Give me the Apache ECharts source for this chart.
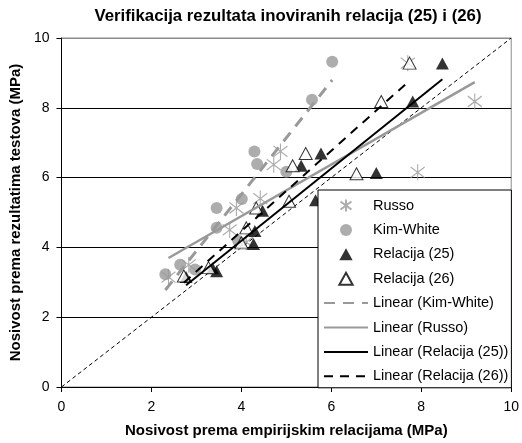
<!DOCTYPE html>
<html><head><meta charset="utf-8">
<script src="https://cdn.jsdelivr.net/npm/echarts@6/dist/echarts.min.js"></script>
<style>html,body{margin:0;padding:0;background:#fff}#c{width:522px;height:443px}</style>
</head><body><div id="c"></div>
<script>
// ---- data ----
const russoX = [2.38, 2.83, 3.74, 3.89, 4.11, 4.42, 4.72, 4.87, 7.70, 7.92, 9.19];
const russoY = [3.15, 3.50, 4.50, 5.13, 4.15, 5.40, 6.37, 6.75, 9.28, 6.15, 8.18];
const kimX = [2.31, 2.64, 2.97, 3.45, 3.45, 3.93, 4.01, 4.29, 4.35, 5.00, 5.57, 6.02];
const kimY = [3.23, 3.50, 3.37, 4.56, 5.13, 4.18, 5.39, 6.75, 6.39, 6.17, 8.23, 9.32];
const r25X = [2.77, 3.36, 3.45, 4.27, 4.30, 4.47, 5.33, 5.65, 5.77, 7.00, 7.81, 8.47];
const r25Y = [3.15, 3.40, 3.32, 4.10, 4.47, 5.05, 6.34, 5.35, 6.69, 6.13, 8.18, 9.27];
const r26X = [2.72, 3.27, 4.00, 4.11, 4.33, 5.06, 5.14, 5.43, 6.56, 7.11, 7.74];
const r26Y = [3.18, 3.42, 4.13, 4.56, 5.13, 5.32, 6.34, 6.69, 6.11, 8.18, 9.28];
const refLineX = [0, 10];
const refLineY = [0, 10];
const axisTicks = [0, 2, 4, 6, 8, 10];
const legendNames = ['Russo', 'Kim-White', 'Relacija (25)', 'Relacija (26)',
  'Linear (Kim-White)', 'Linear (Russo)', 'Linear (Relacija (25))', 'Linear (Relacija (26))'];

function pairs(xs, ys) { return xs.map((x, i) => [x, ys[i]]); }
function trend(xs, ys) {
  const n = xs.length;
  const mx = xs.reduce((a, b) => a + b, 0) / n, my = ys.reduce((a, b) => a + b, 0) / n;
  let sxy = 0, sxx = 0;
  for (let i = 0; i < n; i++) { sxy += (xs[i] - mx) * (ys[i] - my); sxx += (xs[i] - mx) ** 2; }
  const b = sxy / sxx, a = my - b * mx;
  const x0 = Math.min(...xs), x1 = Math.max(...xs);
  return [[x0, a + b * x0], [x1, a + b * x1]];
}

const GRAY = '#999999';
const FONT = "'Liberation Sans', Arial, sans-serif";
const asterisk = 'path://M5,0L5,11M0,1.8L10,9.2M0,9.2L10,1.8';
const tri = 'path://M5,0L10,9L0,9Z';
const hidden = { color: 'rgba(0,0,0,0)', borderColor: 'rgba(0,0,0,0)', borderWidth: 0 };

const chart = echarts.init(document.getElementById('c'), null, { renderer: 'canvas' });
chart.setOption({
  animation: false,
  backgroundColor: '#fff',
  title: {
    text: 'Verifikacija rezultata inoviranih relacija (25) i (26)',
    left: 283, textAlign: 'center', top: 3,
    textStyle: { fontFamily: FONT, fontSize: 16.8, fontWeight: 'bold', color: '#000' }
  },
  grid: { left: 58, right: 9, top: 38, bottom: 55, show: true, borderColor: '#8c8c8c', borderWidth: 1, backgroundColor: '#fff' },
  legend: {
    data: legendNames,
    orient: 'vertical', left: 318, top: 190,
    padding: [8, 3, 4, 5], itemWidth: 44, itemHeight: 12, itemGap: 9.4,
    symbolKeepAspect: true,
    borderColor: '#000', borderWidth: 1, backgroundColor: '#fff',
    textStyle: { fontFamily: FONT, fontSize: 14.5, color: '#000' },
    z: 10
  },
  xAxis: {
    type: 'value', min: axisTicks[0], max: axisTicks[axisTicks.length - 1], interval: 2,
    name: 'Nosivost prema empirijskim relacijama (MPa)', nameLocation: 'middle', nameGap: 36,
    nameTextStyle: { fontFamily: FONT, fontSize: 15, fontWeight: 'bold', color: '#000' },
    axisLine: { lineStyle: { color: '#000', width: 1 } },
    axisTick: { show: true, inside: false, length: 5, lineStyle: { color: '#000' } },
    axisLabel: { fontFamily: FONT, fontSize: 14, color: '#000', margin: 13 },
    splitLine: { show: false }
  },
  yAxis: {
    type: 'value', min: axisTicks[0], max: axisTicks[axisTicks.length - 1], interval: 2,
    name: 'Nosivost prema rezultatima testova (MPa)', nameLocation: 'middle', nameGap: 21,
    nameTextStyle: { fontFamily: FONT, fontSize: 15, fontWeight: 'bold', color: '#000' },
    axisLine: { lineStyle: { color: '#000', width: 1 } },
    axisTick: { show: true, inside: false, length: 5, lineStyle: { color: '#000' } },
    axisLabel: { fontFamily: FONT, fontSize: 14, color: '#000', margin: 12 },
    splitLine: { show: true, lineStyle: { color: ['#000', '#000', '#000', '#000', '#000', '#8c8c8c'], width: 1 } }
  },
  series: [
    { name: '1:1', type: 'line', data: pairs(refLineX, refLineY), symbol: 'none', silent: true, z: 1,
      lineStyle: { color: '#000', width: 1, type: [4, 3] } },
    { name: 'Russo', type: 'scatter', data: pairs(russoX, russoY), symbol: asterisk, symbolSize: [14, 16], z: 2,
      itemStyle: { color: 'rgba(0,0,0,0)', borderColor: GRAY, borderWidth: 1.2 } },
    { name: 'Kim-White', type: 'scatter', data: pairs(kimX, kimY), symbol: 'circle', symbolSize: 12, z: 2,
      itemStyle: { color: GRAY, borderWidth: 0 } },
    { name: 'Relacija (25)', type: 'scatter', data: pairs(r25X, r25Y), symbol: tri, symbolSize: [13, 12], z: 2,
      itemStyle: { color: '#000', borderWidth: 0 } },
    { name: 'Relacija (26)', type: 'scatter', data: pairs(r26X, r26Y), symbol: tri, symbolSize: [13, 12], z: 2,
      itemStyle: { color: '#fff', borderColor: '#000', borderWidth: 1 } },
    { name: 'Linear (Kim-White)', type: 'line', data: trend(kimX, kimY), symbol: 'circle', showSymbol: false, z: 3,
      lineStyle: { color: GRAY, width: 3, type: [11, 8] }, itemStyle: hidden },
    { name: 'Linear (Russo)', type: 'line', data: trend(russoX, russoY), symbol: 'circle', showSymbol: false, z: 3,
      lineStyle: { color: GRAY, width: 2.5 }, itemStyle: hidden },
    { name: 'Linear (Relacija (25))', type: 'line', data: trend(r25X, r25Y), symbol: 'circle', showSymbol: false, z: 3,
      lineStyle: { color: '#000', width: 2 }, itemStyle: hidden },
    { name: 'Linear (Relacija (26))', type: 'line', data: trend(r26X, r26Y), symbol: 'circle', showSymbol: false, z: 3,
      lineStyle: { color: '#000', width: 2, type: [9, 7] }, itemStyle: hidden }
  ]
});
</script></body></html>
